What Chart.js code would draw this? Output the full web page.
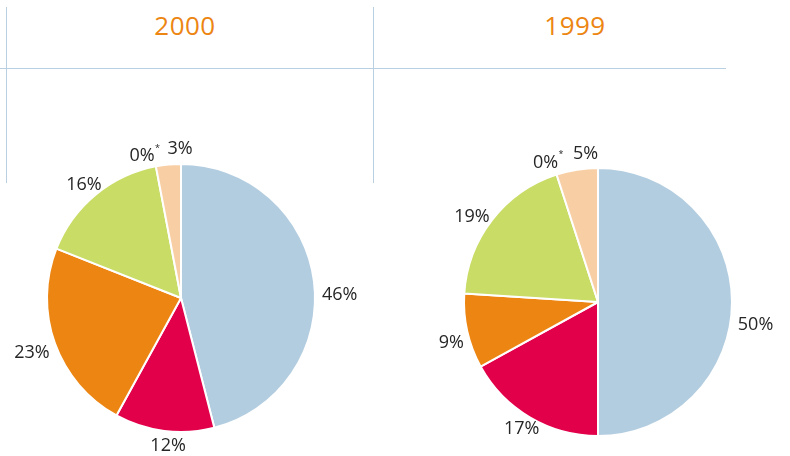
<!DOCTYPE html>
<html>
<head>
<meta charset="utf-8">
<script src="https://cdn.jsdelivr.net/npm/chart.js@4/dist/chart.umd.min.js"></script>
<style>
  html, body { margin: 0; padding: 0; background: #fff; }
  body { width: 790px; height: 456px; position: relative; overflow: hidden; font-family: "Open Sans", sans-serif; }
  .vline { position: absolute; width: 1px; background: #b9cfe2; top: 7px; height: 176px; }
  .hline { position: absolute; height: 1px; background: #b9cfe2; top: 68px; left: 0; width: 726px; }
  .title { position: absolute; top: 7px; width: 200px; text-align: center; color: #ec8511; font-size: 26px; font-weight: 400; letter-spacing: 0.5px; }
  canvas { position: absolute; }
</style>
</head>
<body>
<div class="vline" style="left:6px"></div>
<div class="vline" style="left:373px"></div>
<div class="hline"></div>
<div class="title" id="t0" style="left:85px"></div>
<div class="title" id="t1" style="left:475px"></div>
<div style="position:absolute;left:1px;top:120px;width:360px;height:336px"><canvas id="c0"></canvas></div>
<div style="position:absolute;left:418px;top:128px;width:360px;height:328px"><canvas id="c1"></canvas></div>
<script>
// ---- data ----
const years = ['2000', '1999'];
const segments = ['Segment 1', 'Segment 2', 'Segment 3', 'Segment 4', 'Segment 5', 'Segment 6'];
const values2000 = [46, 12, 23, 16, 0, 3];
const values1999 = [50, 17, 9, 19, 0, 5];
const footnoteMarked = [false, false, false, false, true, false];

// ---- styling ----
const colors = ['#b3cde0', '#e2004a', '#ec8511', '#c8dc66', '#f2c89a', '#f8cfa5'];
const angleNudge = [
  [6, -2, -2, 0, -4, 5],   // 2000 label angle tweaks (degrees)
  [9, 0, -4, -2, -2, 4]    // 1999
];
const gapExtra = [
  [0, 0, 3, 0, -2, 0],
  [1, 0, 0, 0, 0, 0]
];

document.getElementById('t0').textContent = years[0];
document.getElementById('t1').textContent = years[1];

const labelPlugin = {
  id: 'outerLabels',
  afterDatasetsDraw(chart, args, opts) {
    const ctx = chart.ctx;
    const meta = chart.getDatasetMeta(0);
    const vals = chart.data.datasets[0].data;
    const font = '18px "Open Sans", sans-serif';
    ctx.save();
    ctx.fillStyle = '#262626';
    ctx.textBaseline = 'middle';
    meta.data.forEach((arc, i) => {
      const p = arc.getProps(['x', 'y', 'startAngle', 'endAngle', 'outerRadius'], true);
      const a = (p.startAngle + p.endAngle) / 2 + (opts.nudge[i] || 0) * Math.PI / 180;
      const txt = vals[i] + '%';
      ctx.font = font;
      const w = ctx.measureText(txt).width;
      const starW = footnoteMarked[i] ? 5 : 0;
      const hw = (w + starW) / 2, hh = 8;
      const d = p.outerRadius + 7 + (opts.gap[i] || 0);
      const cx = p.x + Math.cos(a) * (d + hw * Math.abs(Math.cos(a)));
      const cy = p.y + Math.sin(a) * (d + hh * Math.abs(Math.sin(a)));
      const x0 = cx - hw;
      ctx.textAlign = 'left';
      ctx.fillText(txt, x0, cy);
      if (footnoteMarked[i]) {
        ctx.font = '9px "Open Sans", sans-serif';
        ctx.fillText('*', x0 + w + 0.5, cy - 8);
      }
    });
    ctx.restore();
  }
};

function makePie(id, values, nudge, gap) {
  return new Chart(document.getElementById(id), {
    type: 'pie',
    data: {
      labels: segments,
      datasets: [{
        data: values,
        backgroundColor: colors,
        borderColor: '#ffffff',
        borderWidth: 2,
        hoverOffset: 0
      }]
    },
    options: {
      responsive: true,
      maintainAspectRatio: false,
      animation: false,
      radius: 134,
      layout: { padding: { top: 20 } },
      plugins: {
        legend: { display: false },
        tooltip: { enabled: false },
        outerLabels: { nudge: nudge, gap: gap }
      }
    },
    plugins: [labelPlugin]
  });
}

makePie('c0', values2000, angleNudge[0], gapExtra[0]);
makePie('c1', values1999, angleNudge[1], gapExtra[1]);
</script>
</body>
</html>
